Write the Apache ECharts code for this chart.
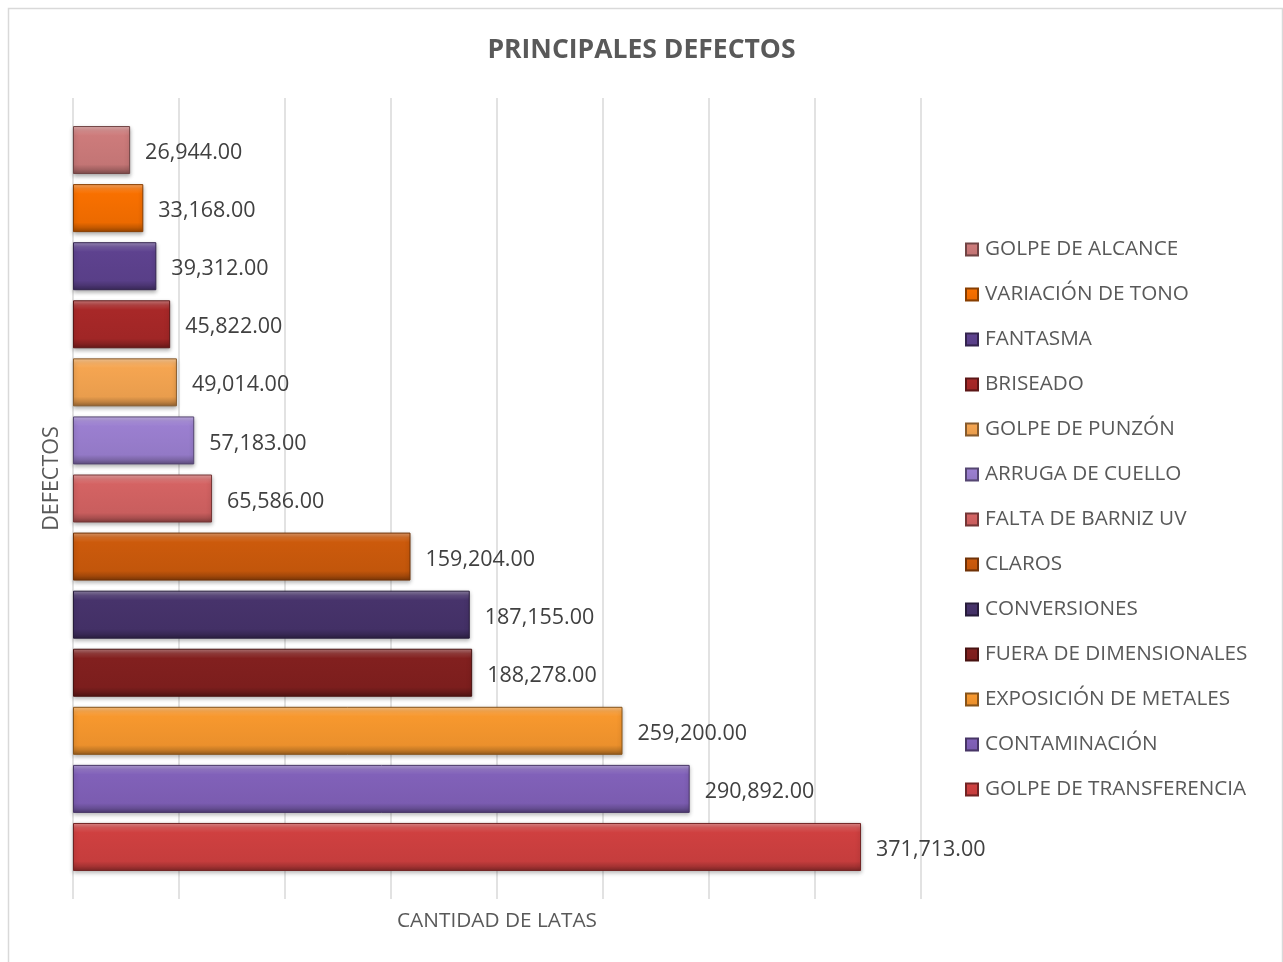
<!DOCTYPE html>
<html>
<head>
<meta charset="utf-8">
<script src="https://cdn.jsdelivr.net/npm/echarts@6/dist/echarts.min.js"></script>
<style>
html,body{margin:0;padding:0;background:#fff;}
#chart{width:1283px;height:962px;}
</style>
</head>
<body>
<div id="chart"></div>
<script>
// Data (legend / cluster order: top to bottom)
const defectNames = [
  'GOLPE DE ALCANCE',
  'VARIACIÓN DE TONO',
  'FANTASMA',
  'BRISEADO',
  'GOLPE DE PUNZÓN',
  'ARRUGA DE CUELLO',
  'FALTA DE BARNIZ UV',
  'CLAROS',
  'CONVERSIONES',
  'FUERA DE DIMENSIONALES',
  'EXPOSICIÓN DE METALES',
  'CONTAMINACIÓN',
  'GOLPE DE TRANSFERENCIA'
];
const defectValues = [26944, 33168, 39312, 45822, 49014, 57183, 65586, 159204, 187155, 188278, 259200, 290892, 371713];
const barColors = ['#cd7b7b','#f87000','#5e428f','#a82828','#f5a551','#9b7fd0','#d46363','#cc5a0c','#47336b','#82201f','#f7982e','#8161b9','#cf4040'];
const titleText = 'PRINCIPALES DEFECTOS';
const xAxisTitle = 'CANTIDAD DE LATAS';
const yAxisTitle = 'DEFECTOS';

function shade(hex, amt) {
  const n = parseInt(hex.slice(1), 16);
  let r = (n >> 16) & 255, g = (n >> 8) & 255, b = n & 255;
  const f = (c) => amt >= 0 ? Math.round(c + (255 - c) * amt) : Math.round(c * (1 + amt));
  return 'rgb(' + f(r) + ',' + f(g) + ',' + f(b) + ')';
}

const FONT = '"Open Sans", "Noto Sans", sans-serif';

const series = defectNames.map((name, i) => ({
  name: name,
  type: 'bar',
  data: [defectValues[i]],
  barGap: '21%',
  barCategoryGap: '7%',
  itemStyle: {
    color: new echarts.graphic.LinearGradient(0, 0, 0, 1, [
      { offset: 0, color: shade(barColors[i], 0.4) },
      { offset: 0.1, color: shade(barColors[i], 0.12) },
      { offset: 0.2, color: barColors[i] },
      { offset: 0.8, color: shade(barColors[i], -0.05) },
      { offset: 0.9, color: shade(barColors[i], -0.2) },
      { offset: 1, color: shade(barColors[i], -0.4) }
    ]),
    borderColor: shade(barColors[i], -0.45),
    borderWidth: 1,
    shadowBlur: 4,
    shadowOffsetY: 2,
    shadowColor: 'rgba(0,0,0,0.3)'
  },
  label: {
    show: true,
    position: 'right',
    distance: 15,
    offset: [0, 3],
    color: '#404040',
    fontFamily: FONT,
    fontSize: 21.5,
    formatter: (p) => p.value.toLocaleString('en-US', { minimumFractionDigits: 2, maximumFractionDigits: 2 })
  }
}));

const chart = echarts.init(document.getElementById('chart'));
chart.setOption({
  backgroundColor: '#fff',
  animation: false,
  graphic: [{
    type: 'rect',
    left: 6, top: 6,
    shape: { width: 1274, height: 980 },
    style: { fill: 'none', stroke: '#d9d9d9', lineWidth: 1.5 },
    silent: true,
    z: -1
  }],
  title: {
    text: titleText,
    left: 'center',
    top: 32,
    textStyle: { fontFamily: FONT, fontSize: 26.5, fontWeight: 'bold', color: '#595959' }
  },
  legend: {
    orient: 'vertical',
    left: 965,
    top: 239,
    padding: 0,
    data: defectNames,
    icon: 'rect',
    itemWidth: 12,
    itemHeight: 12,
    itemGap: 24,
    textStyle: { fontFamily: FONT, fontSize: 20.7, color: '#595959', lineHeight: 21, padding: [0,0,0,2] }
  },
  grid: { left: 73, right: 362, top: 98, bottom: 63, containLabel: false },
  xAxis: {
    type: 'value',
    min: 0, max: 400000, interval: 50000,
    name: xAxisTitle,
    nameLocation: 'middle',
    nameGap: 12,
    nameTextStyle: { fontFamily: FONT, fontSize: 20.8, color: '#595959', verticalAlign: 'top' },
    axisLabel: { show: false },
    axisTick: { show: false },
    axisLine: { show: false },
    splitLine: { show: true, lineStyle: { color: '#d9d9d9', width: 1.5 } }
  },
  yAxis: {
    type: 'category',
    data: [''],
    name: yAxisTitle,
    nameLocation: 'middle',
    nameGap: 10,
    nameTextStyle: { fontFamily: FONT, fontSize: 21.5, color: '#595959', padding: [0, 0, 0, 40] },
    axisLabel: { show: false },
    axisTick: { show: false },
    axisLine: { show: false },
    splitLine: { show: false }
  },
  series: series
});
</script>
</body>
</html>
